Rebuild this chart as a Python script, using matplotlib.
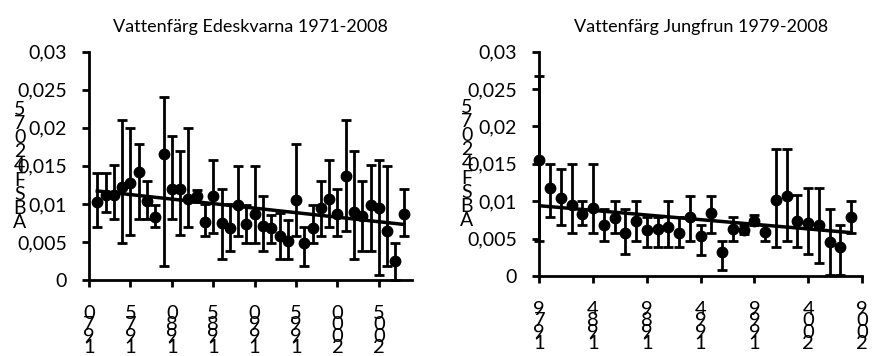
import matplotlib
matplotlib.use('Agg')
import matplotlib.pyplot as plt
import numpy as np

plt.rcParams['font.family'] = ['Lato', 'DejaVu Sans']

# Edeskvarna 1971-2008
edes_years = list(range(1971, 2009))
edes_val = [0.0102, 0.0112, 0.0112, 0.0122, 0.0127, 0.0142, 0.0104, 0.0083, 0.0166, 0.0120,
            0.0120, 0.0107, 0.0110, 0.0076, 0.0110, 0.0075, 0.0068, 0.0099, 0.0073, 0.0087,
            0.0071, 0.0068, 0.0058, 0.0051, 0.0105, 0.0048, 0.0068, 0.0094, 0.0106, 0.0087,
            0.0137, 0.0089, 0.0084, 0.0099, 0.0094, 0.0065, 0.0025, 0.0087]
edes_hi = [0.0141, 0.0141, 0.0151, 0.0210, 0.0200, 0.0179, 0.0130, 0.0099, 0.0241, 0.0189,
           0.0169, 0.0200, 0.0118, 0.0100, 0.0158, 0.0120, 0.0100, 0.0150, 0.0099, 0.0150,
           0.0110, 0.0086, 0.0088, 0.0079, 0.0179, 0.0069, 0.0099, 0.0130, 0.0158, 0.0120,
           0.0210, 0.0169, 0.0130, 0.0151, 0.0158, 0.0150, 0.0048, 0.0120]
edes_lo = [0.0069, 0.0089, 0.0080, 0.0048, 0.0059, 0.0080, 0.0080, 0.0069, 0.0018, 0.0080,
           0.0059, 0.0069, 0.0102, 0.0058, 0.0062, 0.0027, 0.0038, 0.0058, 0.0048, 0.0048,
           0.0038, 0.0048, 0.0027, 0.0027, 0.0058, 0.0018, 0.0048, 0.0058, 0.0069, 0.0058,
           0.0065, 0.0027, 0.0038, 0.0038, 0.0007, 0.0018, 0.0000, 0.0058]
edes_trend = [0.0117, 0.0073]   # trend line at first and last year
edes_ticks = [1970, 1975, 1980, 1985, 1990, 1995, 2000, 2005]

# Jungfrun 1979-2008
jung_years = list(range(1979, 2009))
jung_val = [0.0155, 0.0118, 0.0104, 0.0095, 0.0083, 0.0091, 0.0068, 0.0077, 0.0058, 0.0073,
            0.0061, 0.0063, 0.0065, 0.0058, 0.0079, 0.0053, 0.0084, 0.0032, 0.0063, 0.0062,
            0.0074, 0.0059, 0.0101, 0.0107, 0.0074, 0.0071, 0.0068, 0.0046, 0.0039, 0.0079]
jung_hi = [0.0268, 0.0150, 0.0143, 0.0150, 0.0100, 0.0150, 0.0090, 0.0100, 0.0090, 0.0100,
           0.0079, 0.0079, 0.0100, 0.0079, 0.0107, 0.0068, 0.0107, 0.0047, 0.0079, 0.0068,
           0.0081, 0.0068, 0.0170, 0.0170, 0.0108, 0.0118, 0.0118, 0.0089, 0.0068, 0.0100]
jung_lo = [0.0047, 0.0079, 0.0068, 0.0058, 0.0068, 0.0058, 0.0047, 0.0058, 0.0029, 0.0047,
           0.0039, 0.0039, 0.0039, 0.0039, 0.0047, 0.0028, 0.0058, 0.0008, 0.0047, 0.0056,
           0.0068, 0.0047, 0.0039, 0.0047, 0.0039, 0.0029, 0.0018, 0.0002, 0.0002, 0.0058]
jung_trend = [0.0094, 0.0058]
jung_ticks = [1979, 1984, 1989, 1994, 1999, 2004, 2009]

y_ticks = [0, 0.005, 0.01, 0.015, 0.02, 0.025, 0.03]
y_labels = ['0', '0,005', '0,01', '0,015', '0,02', '0,025', '0,03']
y_title = 'ABSF42075'


def stacked(text):
    # Excel style: characters stacked, last one on top
    return '\n'.join(reversed(text))


def draw_panel(ax, years, val, lo, hi, trend, ticks, xlim, title, label_x):
    val = np.array(val)
    yerr = [val - np.array(lo), np.array(hi) - val]
    ax.errorbar(years, val, yerr=yerr, fmt='o', color='black', ms=7.5,
                elinewidth=2, capsize=3.5, capthick=2, zorder=3, clip_on=False)

    # linear trend
    ax.plot([years[0], years[-1]], trend, color='black', lw=2.5, zorder=4)

    ax.set_xlim(*xlim)
    ax.set_ylim(0, 0.03)
    ax.set_yticks(y_ticks)
    ax.set_yticklabels(y_labels, fontsize=14)
    ax.set_xticks(ticks)
    ax.set_xticklabels([stacked(str(t)) for t in ticks], fontsize=14.5,
                       linespacing=0.6, va='top')
    for s in ['top', 'right']:
        ax.spines[s].set_visible(False)
    for s in ['left', 'bottom']:
        ax.spines[s].set_linewidth(2)
    ax.tick_params(axis='both', direction='out', length=5, width=2)
    ax.tick_params(axis='y', pad=11)
    ax.tick_params(axis='x', pad=13)

    ax.set_title(title, fontsize=13, pad=14)
    ax.set_ylabel(stacked(y_title), rotation=0, fontsize=14, linespacing=0.8,
                  va='center', ha='center')
    ax.yaxis.set_label_coords(label_x, 0.5)


fig = plt.figure(figsize=(8.81, 3.56), dpi=100)
ax1 = fig.add_axes([0.101, 0.2135, 0.3667, 0.6413])
ax2 = fig.add_axes([0.6121, 0.2247, 0.3663, 0.6301])

draw_panel(ax1, edes_years, edes_val, edes_lo, edes_hi, edes_trend, edes_ticks, (1970, 2009),
           'Vattenfärg Edeskvarna 1971-2008', -0.214)
draw_panel(ax2, jung_years, jung_val, jung_lo, jung_hi, jung_trend, jung_ticks, (1979, 2009),
           'Vattenfärg Jungfrun 1979-2008', -0.224)

fig.savefig('out.png', dpi=100)
